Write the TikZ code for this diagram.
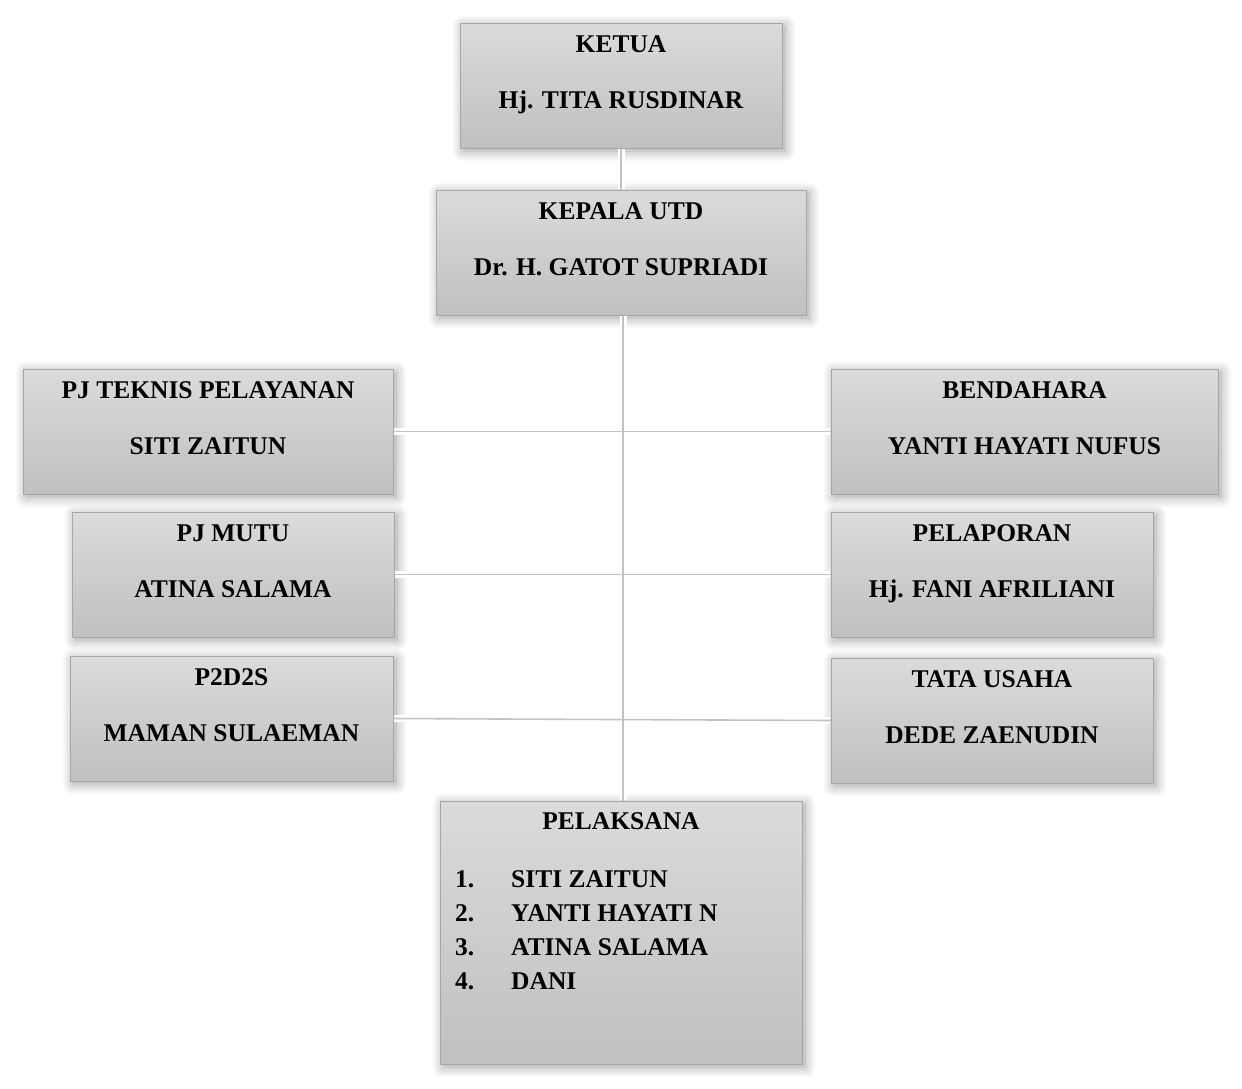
\documentclass[tikz,border=0pt]{standalone}
\usepackage{fontspec}
\setmainfont{Liberation Serif}
\usetikzlibrary{shadows.blur}
\definecolor{boxtop}{HTML}{DBDBDB}
\definecolor{boxbot}{HTML}{C0C0C0}
\definecolor{boxline}{HTML}{A6A6A6}
\definecolor{connline}{HTML}{C2C2C2}
\tikzset{
  orgbox/.style={draw=boxline, line width=1pt, top color=boxtop, bottom color=boxbot,
    minimum height=125pt, inner sep=0pt,
    blur shadow={shadow xshift=3pt, shadow yshift=-3pt, shadow blur radius=11pt, shadow blur steps=12, shadow opacity=38}},
  lbl/.style={font=\bfseries\fontsize{25.5}{30}\selectfont, inner sep=0pt, anchor=base},
  lstl/.style={font=\bfseries\fontsize{25.5}{30}\selectfont, inner sep=0pt, anchor=base west},
  halo/.style={white, line width=7pt, shorten >=0.6pt, shorten <=0.6pt},
  conn/.style={connline, line width=1.6pt},
}
\begin{document}
\begin{tikzpicture}[x=1pt,y=1pt]
\useasboundingbox (0,0) rectangle (1242,-1088);
% boxes
\node[orgbox, minimum width=322pt] (ketua) at (621,-85.5) {};
\node[orgbox, minimum width=370pt] (kepala) at (621,-252.5) {};
\node[orgbox, minimum width=370pt] (pjt) at (208,-431.5) {};
\node[orgbox, minimum width=387pt] (bend) at (1024.5,-431.5) {};
\node[orgbox, minimum width=322pt] (mutu) at (233,-574.5) {};
\node[orgbox, minimum width=322pt] (lapor) at (992,-574.5) {};
\node[orgbox, minimum width=323pt] (ppds) at (231.5,-718.5) {};
\node[orgbox, minimum width=322pt] (tu) at (992,-720.5) {};
\node[orgbox, minimum width=362pt, minimum height=263pt] (laks) at (621,-932.5) {};
\coordinate (spine) at (623,0);
% connectors
\draw[halo] (ketua.south) -- (kepala.north);
\draw[halo] (kepala.south -| spine) -- (laks.north -| spine);
\draw[halo] (pjt.east) -- (bend.west);
\draw[halo] (mutu.east) -- (lapor.west);
\draw[halo] (ppds.east) -- (tu.west);
\draw[conn] (ketua.south) -- (kepala.north);
\draw[conn] (kepala.south -| spine) -- (laks.north -| spine);
\draw[conn] (pjt.east) -- (bend.west);
\draw[conn] (mutu.east) -- (lapor.west);
\draw[conn] (ppds.east) -- (tu.west);
% labels
\node[lbl] (ketuaA) at ([yshift=-30pt]ketua.north) {KETUA};
\node[lbl] (ketuaB) at ([yshift=-86pt]ketua.north) {Hj. TITA RUSDINAR};
\node[lbl] (kepalaA) at ([yshift=-30pt]kepala.north) {KEPALA UTD};
\node[lbl] (kepalaB) at ([yshift=-86pt]kepala.north) {Dr. H. GATOT SUPRIADI};
\node[lbl] (pjtA) at ([yshift=-30pt]pjt.north) {PJ TEKNIS PELAYANAN};
\node[lbl] (pjtB) at ([yshift=-86pt]pjt.north) {SITI ZAITUN};
\node[lbl] (bendA) at ([yshift=-30pt]bend.north) {BENDAHARA};
\node[lbl] (bendB) at ([yshift=-86pt]bend.north) {YANTI HAYATI NUFUS};
\node[lbl] (mutuA) at ([yshift=-30pt]mutu.north) {PJ MUTU};
\node[lbl] (mutuB) at ([yshift=-86pt]mutu.north) {ATINA SALAMA};
\node[lbl] (laporA) at ([yshift=-30pt]lapor.north) {PELAPORAN};
\node[lbl] (laporB) at ([yshift=-86pt]lapor.north) {Hj. FANI AFRILIANI};
\node[lbl] (ppdsA) at ([yshift=-30pt]ppds.north) {P2D2S};
\node[lbl] (ppdsB) at ([yshift=-86pt]ppds.north) {MAMAN SULAEMAN};
\node[lbl] (tuA) at ([yshift=-30pt]tu.north) {TATA USAHA};
\node[lbl] (tuB) at ([yshift=-86pt]tu.north) {DEDE ZAENUDIN};
\node[lbl] (laksA) at ([yshift=-29pt]laks.north) {PELAKSANA};
\node[lstl] (n1) at (455,-887) {1.};
\node[lstl] (n2) at (455,-921) {2.};
\node[lstl] (n3) at (455,-955) {3.};
\node[lstl] (n4) at (455,-989) {4.};
\node[lstl] (m1) at (511,-887) {SITI ZAITUN};
\node[lstl] (m2) at (511,-921) {YANTI HAYATI N};
\node[lstl] (m3) at (511,-955) {ATINA SALAMA};
\node[lstl] (m4) at (511,-989) {DANI};
\end{tikzpicture}
\end{document}
